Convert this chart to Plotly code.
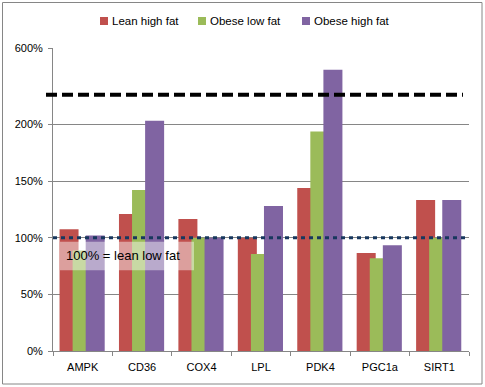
import plotly.graph_objects as go

categories = ["AMPK", "CD36", "COX4", "LPL", "PDK4", "PGC1a", "SIRT1"]
series_names = ["Lean high fat", "Obese low fat", "Obese high fat"]
lean_high_fat = [107.5, 121, 116.5, 100, 144, 86.5, 133.4]
obese_low_fat = [88.8, 142.2, 100, 85.6, 193.8, 82, 100]
obese_high_fat = [102, 220, 100, 128, 486, 93.5, 133.4]
tick_labels = ["0%", "50%", "100%", "150%", "200%", "600%"]
tick_real = [0, 50, 100, 150, 200, 600]

# broken axis: 0-200 linear, 200-600 compressed into the top segment
BREAK = 200
TOP_DISP = 267.6
TOP_REAL = 600
def to_axis(v):
    if v <= BREAK:
        return v
    return BREAK + (v - BREAK) * (TOP_DISP - BREAK) / (TOP_REAL - BREAK)

colors = ["#C0504D", "#9BBB59", "#8064A2"]
offsets = [-0.39, -0.17, 0.05]
bar_w = 0.32

W, H = 485, 387
ML, MR, MT, MB = 53, 16, 48, 36
PW, PH = W - ML - MR, H - MT - MB
def px_x(p):
    return (p - ML) / PW
def px_y(p):
    return (H - MB - p) / PH

fig = go.Figure()
for name, vals, c, off in zip(series_names, [lean_high_fat, obese_low_fat, obese_high_fat], colors, offsets):
    fig.add_trace(go.Bar(
        x=categories, y=[to_axis(v) for v in vals], name=name,
        marker=dict(color=c, line=dict(width=0)),
        width=bar_w, offset=off, showlegend=False,
    ))

font = "Liberation Sans, Arial, sans-serif"
fig.update_layout(
    width=W, height=H,
    margin=dict(l=ML, r=MR, t=MT, b=MB, autoexpand=False),
    paper_bgcolor="white", plot_bgcolor="white",
    barmode="overlay",
    font=dict(family=font, size=11, color="#000"),
    showlegend=False,
    xaxis=dict(range=[-0.5, 6.5], showline=True, linecolor="#868686", linewidth=1,
               ticks="outside", ticklen=4, tickcolor="#868686", tickson="boundaries",
               ticklabelstandoff=6,
               showgrid=False, tickfont=dict(size=11, color="#000"), fixedrange=True),
    yaxis=dict(range=[0, TOP_DISP], tickvals=[to_axis(v) for v in tick_real], ticktext=tick_labels,
               showline=True, linecolor="#868686", linewidth=1,
               ticks="outside", ticklen=4, tickcolor="#868686", ticklabelstandoff=3,
               showgrid=True, gridcolor="#868686", gridwidth=1, zeroline=False,
               tickfont=dict(size=11, color="#000"), fixedrange=True),
)

# legend (drawn manually to match the compact Excel legend)
legend_x = [100, 198, 302]
for name, c, lx in zip(series_names, colors, legend_x):
    fig.add_shape(type="rect", xref="paper", yref="paper",
                  x0=px_x(lx), x1=px_x(lx + 8), y0=px_y(25), y1=px_y(17),
                  line=dict(width=0), fillcolor=c)
    fig.add_annotation(text=name, xref="paper", yref="paper", x=px_x(lx + 10), y=px_y(21),
                       xanchor="left", yanchor="middle", showarrow=False,
                       font=dict(family=font, size=11.5, color="#000"))

# outer chart border
fig.add_shape(type="rect", xref="paper", yref="paper",
              x0=px_x(2.5), x1=px_x(482), y0=px_y(384), y1=px_y(2.5),
              line=dict(color="#868686", width=1), fillcolor="rgba(0,0,0,0)", layer="above")

# axis-break dashed line
fig.add_shape(type="line", xref="paper", yref="y", x0=px_x(46), x1=px_x(463), y0=226.3, y1=226.3,
              line=dict(color="black", width=4, dash="11px,5px"), layer="above")

# semi-transparent label box
fig.add_shape(type="rect", xref="paper", yref="y", x0=px_x(60), x1=px_x(194), y0=71.4, y1=96.5,
              line=dict(width=0), fillcolor="rgba(255,255,255,0.45)", layer="above")

# 100% reference dotted line
fig.add_shape(type="line", xref="paper", yref="y", x0=0, x1=1, y0=100, y1=100,
              line=dict(color="#17375E", width=3, dash="4px,4px"), layer="above")

fig.add_annotation(text="100% = lean low fat", xref="paper", yref="y", x=px_x(64), y=84,
                   xanchor="left", yanchor="middle", showarrow=False,
                   font=dict(family=font, size=13, color="#000"))

fig.write_html("out.html", config={"displayModeBar": False, "staticPlot": True},
               post_script="document.body.style.margin='0px';document.body.style.overflow='hidden';")
